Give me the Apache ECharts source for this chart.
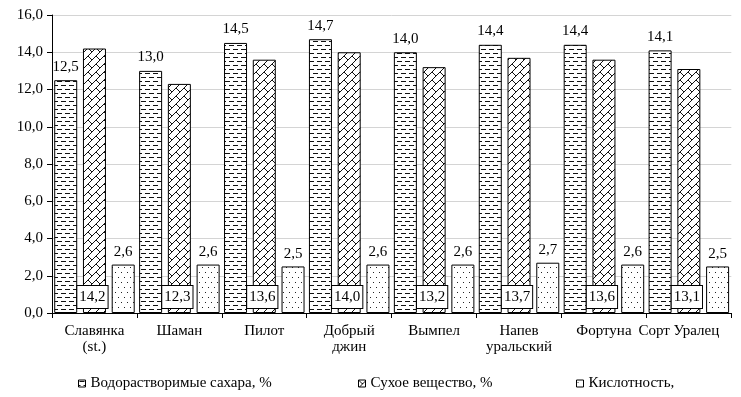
<!DOCTYPE html>
<html><head><meta charset="utf-8">
<script src="https://cdn.jsdelivr.net/npm/echarts@6/dist/echarts.min.js"></script>
<style>html,body{margin:0;padding:0;background:#fff;}#c{width:741px;height:397px;}</style>
</head><body><div id="c"></div>
<script>
const categories = ['Славянка\n(st.)', 'Шаман', 'Пилот', 'Добрый\nджин', 'Вымпел', 'Напев\nуральский', 'Фортуна', 'Сорт Уралец'];
const sugars = [12.5, 13.0, 14.5, 14.7, 14.0, 14.4, 14.4, 14.1];
const dryMatter = [14.2, 12.3, 13.6, 14.0, 13.2, 13.7, 13.6, 13.1];
const acidity = [2.6, 2.6, 2.5, 2.6, 2.6, 2.7, 2.6, 2.5];
const seriesNames = ['Водорастворимые сахара, %', 'Сухое вещество, %', 'Кислотность,'];
const yTicks = {min: 0, max: 16, interval: 2};

const FONT = "'Liberation Serif', 'Times New Roman', serif";
const FS = 15;
function fmt(v){ return Number(v).toFixed(1).replace('.', ','); }

function pattern(kind){
  const c = document.createElement('canvas');
  const g = c.getContext('2d');
  if (kind === 'dash') {
    c.width = 8; c.height = 8;
    g.fillStyle = '#fff'; g.fillRect(0,0,8,8);
    g.fillStyle = '#111';
    g.fillRect(1,1,5,1);
    g.fillRect(5,5,3,1); g.fillRect(0,5,2,1);
  } else if (kind === 'brick') {
    c.width = 8; c.height = 8;
    g.fillStyle = '#fff'; g.fillRect(0,0,8,8);
    g.strokeStyle = '#111'; g.lineWidth = 1;
    g.beginPath();
    g.moveTo(-1,9); g.lineTo(9,-1);
    g.moveTo(0,0); g.lineTo(4,4);
    g.moveTo(8,0); g.lineTo(9,1);
    g.moveTo(-1,7); g.lineTo(0,8);
    g.stroke();
  } else {
    c.width = 6; c.height = 10;
    g.fillStyle = '#fff'; g.fillRect(0,0,6,10);
    g.fillStyle = '#222';
    g.fillRect(1,2,1,1);
    g.fillRect(4,7,1,1);
  }
  return {image: c, repeat: 'repeat'};
}
const pDash = pattern('dash'), pBrick = pattern('brick'), pDot = pattern('dot');

const chart = echarts.init(document.getElementById('c'), null, {renderer: 'canvas'});
const legendBase = {
  top: 376, padding: 0, itemWidth: 7, itemHeight: 7, icon: 'rect',
  textStyle: {fontFamily: FONT, fontSize: FS, color: '#000'},
  itemStyle: {borderColor: '#000', borderWidth: 1}
};
chart.setOption({
  animation: false,
  backgroundColor: '#fff',
  textStyle: {fontFamily: FONT},
  grid: {left: 52, top: 15, width: 700, height: 298},
  legend: [
    Object.assign({}, legendBase, {left: 78, data: [seriesNames[0]]}),
    Object.assign({}, legendBase, {left: 358, data: [seriesNames[1]]}),
    Object.assign({}, legendBase, {left: 576, data: [seriesNames[2]]})
  ],
  xAxis: {
    type: 'category', data: categories,
    axisLine: {lineStyle: {color: '#000', width: 1}},
    axisTick: {show: true, length: 5, lineStyle: {color: '#000'}},
    axisLabel: {
      fontFamily: FONT, fontSize: FS, color: '#000', margin: 10, lineHeight: 16, interval: 0,
      formatter: function(v, i){ return i === 7 ? '{s|' + v + '}' : v; },
      rich: {s: {fontFamily: FONT, fontSize: FS, color: '#000', padding: [0, 20, 0, 0]}}
    }
  },
  yAxis: {
    type: 'value', min: yTicks.min, max: yTicks.max, interval: yTicks.interval,
    axisLine: {show: true, lineStyle: {color: '#000', width: 1}},
    axisTick: {show: true, length: 5, lineStyle: {color: '#000'}},
    axisLabel: {fontFamily: FONT, fontSize: FS, color: '#000', margin: 9, formatter: fmt},
    splitLine: {lineStyle: {color: '#d4d4d4', width: 1}}
  },
  series: [
    {
      name: seriesNames[0], type: 'bar', data: sugars, barWidth: 23, barGap: '25%',
      itemStyle: {color: pDash, borderColor: '#000', borderWidth: 1},
      label: {show: true, position: 'top', distance: 6, fontFamily: FONT, fontSize: FS, color: '#000', formatter: p => fmt(p.value)}
    },
    {
      name: seriesNames[1], type: 'bar', data: dryMatter, barWidth: 23, barGap: '25%', z: 5,
      itemStyle: {color: pBrick, borderColor: '#000', borderWidth: 1},
      label: {show: true, position: 'insideBottom', distance: 5, offset: [-2, 0],
        fontFamily: FONT, fontSize: FS, color: '#000',
        backgroundColor: '#fff', borderColor: '#000', borderWidth: 1, padding: [4, 2, 3, 2],
        formatter: p => fmt(p.value)}
    },
    {
      name: seriesNames[2], type: 'bar', data: acidity, barWidth: 23, barGap: '25%',
      itemStyle: {color: pDot, borderColor: '#000', borderWidth: 1},
      label: {show: true, position: 'top', distance: 5, fontFamily: FONT, fontSize: FS, color: '#000', formatter: p => fmt(p.value)}
    }
  ]
});
</script></body></html>
